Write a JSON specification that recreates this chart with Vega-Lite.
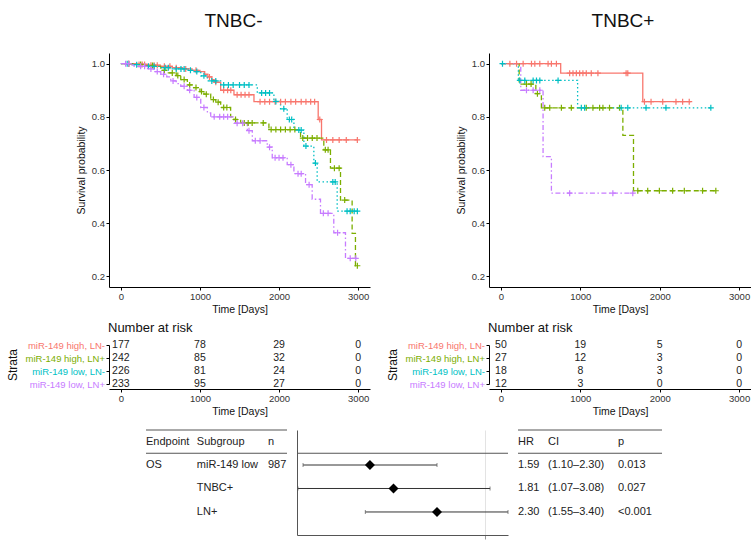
{
"$schema": "https://vega.github.io/schema/vega-lite/v6.json",
"autosize": {"type": "none"},
"padding": {"left": 109, "top": 53, "right": 642, "bottom": 488},
"background": "white",
"config": {
  "font": "Liberation Sans",
  "view": {"stroke": null},
  "axis": {"grid": false, "domainColor": "#000", "tickColor": "#000", "labelColor": "#333", "titleColor": "#111", "labelFontSize": 9.5, "titleFontSize": 10.5, "titleFontWeight": "normal", "tickSize": 3, "labelPadding": 1.5},
  "title": {"fontWeight": "normal", "color": "#111", "frame": "group"}
},
"datasets": {
  "km": [
    {"p":"TNBC-","g":"miR-149 high, LN-","t":0,"s":1},{"p":"TNBC-","g":"miR-149 high, LN-","t":200,"s":0.997},{"p":"TNBC-","g":"miR-149 high, LN-","t":350,"s":0.994},{"p":"TNBC-","g":"miR-149 high, LN-","t":500,"s":0.99},{"p":"TNBC-","g":"miR-149 high, LN-","t":650,"s":0.985},{"p":"TNBC-","g":"miR-149 high, LN-","t":780,"s":0.98},{"p":"TNBC-","g":"miR-149 high, LN-","t":900,"s":0.975},{"p":"TNBC-","g":"miR-149 high, LN-","t":1000,"s":0.97},{"p":"TNBC-","g":"miR-149 high, LN-","t":1060,"s":0.96},{"p":"TNBC-","g":"miR-149 high, LN-","t":1100,"s":0.95},{"p":"TNBC-","g":"miR-149 high, LN-","t":1150,"s":0.94},{"p":"TNBC-","g":"miR-149 high, LN-","t":1180,"s":0.93},{"p":"TNBC-","g":"miR-149 high, LN-","t":1262,"s":0.9},{"p":"TNBC-","g":"miR-149 high, LN-","t":1430,"s":0.883},{"p":"TNBC-","g":"miR-149 high, LN-","t":1683,"s":0.857},{"p":"TNBC-","g":"miR-149 high, LN-","t":2495,"s":0.79},{"p":"TNBC-","g":"miR-149 high, LN-","t":2537,"s":0.713},{"p":"TNBC-","g":"miR-149 high, LN-","t":2990,"s":0.713},
    {"p":"TNBC-","g":"miR-149 high, LN+","t":0,"s":1},{"p":"TNBC-","g":"miR-149 high, LN+","t":150,"s":0.997},{"p":"TNBC-","g":"miR-149 high, LN+","t":300,"s":0.993},{"p":"TNBC-","g":"miR-149 high, LN+","t":450,"s":0.99},{"p":"TNBC-","g":"miR-149 high, LN+","t":505,"s":0.975},{"p":"TNBC-","g":"miR-149 high, LN+","t":600,"s":0.965},{"p":"TNBC-","g":"miR-149 high, LN+","t":700,"s":0.955},{"p":"TNBC-","g":"miR-149 high, LN+","t":757,"s":0.94},{"p":"TNBC-","g":"miR-149 high, LN+","t":841,"s":0.92},{"p":"TNBC-","g":"miR-149 high, LN+","t":900,"s":0.91},{"p":"TNBC-","g":"miR-149 high, LN+","t":1000,"s":0.895},{"p":"TNBC-","g":"miR-149 high, LN+","t":1050,"s":0.885},{"p":"TNBC-","g":"miR-149 high, LN+","t":1136,"s":0.865},{"p":"TNBC-","g":"miR-149 high, LN+","t":1200,"s":0.855},{"p":"TNBC-","g":"miR-149 high, LN+","t":1262,"s":0.835},{"p":"TNBC-","g":"miR-149 high, LN+","t":1388,"s":0.8},{"p":"TNBC-","g":"miR-149 high, LN+","t":1430,"s":0.79},{"p":"TNBC-","g":"miR-149 high, LN+","t":1515,"s":0.777},{"p":"TNBC-","g":"miR-149 high, LN+","t":1872,"s":0.752},{"p":"TNBC-","g":"miR-149 high, LN+","t":2272,"s":0.72},{"p":"TNBC-","g":"miR-149 high, LN+","t":2566,"s":0.676},{"p":"TNBC-","g":"miR-149 high, LN+","t":2650,"s":0.607},{"p":"TNBC-","g":"miR-149 high, LN+","t":2777,"s":0.487},{"p":"TNBC-","g":"miR-149 high, LN+","t":2924,"s":0.362},{"p":"TNBC-","g":"miR-149 high, LN+","t":2966,"s":0.24},{"p":"TNBC-","g":"miR-149 high, LN+","t":2990,"s":0.24},
    {"p":"TNBC-","g":"miR-149 low, LN-","t":0,"s":1},{"p":"TNBC-","g":"miR-149 low, LN-","t":150,"s":0.996},{"p":"TNBC-","g":"miR-149 low, LN-","t":300,"s":0.99},{"p":"TNBC-","g":"miR-149 low, LN-","t":500,"s":0.985},{"p":"TNBC-","g":"miR-149 low, LN-","t":650,"s":0.98},{"p":"TNBC-","g":"miR-149 low, LN-","t":850,"s":0.975},{"p":"TNBC-","g":"miR-149 low, LN-","t":926,"s":0.97},{"p":"TNBC-","g":"miR-149 low, LN-","t":1010,"s":0.954},{"p":"TNBC-","g":"miR-149 low, LN-","t":1094,"s":0.935},{"p":"TNBC-","g":"miR-149 low, LN-","t":1262,"s":0.92},{"p":"TNBC-","g":"miR-149 low, LN-","t":1725,"s":0.89},{"p":"TNBC-","g":"miR-149 low, LN-","t":1935,"s":0.858},{"p":"TNBC-","g":"miR-149 low, LN-","t":2019,"s":0.83},{"p":"TNBC-","g":"miR-149 low, LN-","t":2103,"s":0.79},{"p":"TNBC-","g":"miR-149 low, LN-","t":2188,"s":0.75},{"p":"TNBC-","g":"miR-149 low, LN-","t":2314,"s":0.69},{"p":"TNBC-","g":"miR-149 low, LN-","t":2440,"s":0.626},{"p":"TNBC-","g":"miR-149 low, LN-","t":2482,"s":0.555},{"p":"TNBC-","g":"miR-149 low, LN-","t":2735,"s":0.445},{"p":"TNBC-","g":"miR-149 low, LN-","t":2990,"s":0.445},
    {"p":"TNBC-","g":"miR-149 low, LN+","t":0,"s":1},{"p":"TNBC-","g":"miR-149 low, LN+","t":120,"s":0.995},{"p":"TNBC-","g":"miR-149 low, LN+","t":168,"s":0.99},{"p":"TNBC-","g":"miR-149 low, LN+","t":337,"s":0.98},{"p":"TNBC-","g":"miR-149 low, LN+","t":420,"s":0.97},{"p":"TNBC-","g":"miR-149 low, LN+","t":505,"s":0.96},{"p":"TNBC-","g":"miR-149 low, LN+","t":580,"s":0.95},{"p":"TNBC-","g":"miR-149 low, LN+","t":631,"s":0.935},{"p":"TNBC-","g":"miR-149 low, LN+","t":700,"s":0.925},{"p":"TNBC-","g":"miR-149 low, LN+","t":757,"s":0.915},{"p":"TNBC-","g":"miR-149 low, LN+","t":841,"s":0.9},{"p":"TNBC-","g":"miR-149 low, LN+","t":926,"s":0.873},{"p":"TNBC-","g":"miR-149 low, LN+","t":1010,"s":0.835},{"p":"TNBC-","g":"miR-149 low, LN+","t":1094,"s":0.815},{"p":"TNBC-","g":"miR-149 low, LN+","t":1136,"s":0.8},{"p":"TNBC-","g":"miR-149 low, LN+","t":1430,"s":0.776},{"p":"TNBC-","g":"miR-149 low, LN+","t":1599,"s":0.748},{"p":"TNBC-","g":"miR-149 low, LN+","t":1662,"s":0.71},{"p":"TNBC-","g":"miR-149 low, LN+","t":1851,"s":0.686},{"p":"TNBC-","g":"miR-149 low, LN+","t":1914,"s":0.646},{"p":"TNBC-","g":"miR-149 low, LN+","t":2103,"s":0.62},{"p":"TNBC-","g":"miR-149 low, LN+","t":2188,"s":0.586},{"p":"TNBC-","g":"miR-149 low, LN+","t":2335,"s":0.545},{"p":"TNBC-","g":"miR-149 low, LN+","t":2419,"s":0.49},{"p":"TNBC-","g":"miR-149 low, LN+","t":2524,"s":0.437},{"p":"TNBC-","g":"miR-149 low, LN+","t":2692,"s":0.364},{"p":"TNBC-","g":"miR-149 low, LN+","t":2840,"s":0.268},{"p":"TNBC-","g":"miR-149 low, LN+","t":2990,"s":0.268},
    {"p":"TNBC+","g":"miR-149 high, LN-","t":0,"s":1},{"p":"TNBC+","g":"miR-149 high, LN-","t":753,"s":0.964},{"p":"TNBC+","g":"miR-149 high, LN-","t":1787,"s":0.857},{"p":"TNBC+","g":"miR-149 high, LN-","t":2393,"s":0.857},
    {"p":"TNBC+","g":"miR-149 high, LN+","t":0,"s":1},{"p":"TNBC+","g":"miR-149 high, LN+","t":230,"s":0.923},{"p":"TNBC+","g":"miR-149 high, LN+","t":440,"s":0.887},{"p":"TNBC+","g":"miR-149 high, LN+","t":510,"s":0.834},{"p":"TNBC+","g":"miR-149 high, LN+","t":1536,"s":0.73},{"p":"TNBC+","g":"miR-149 high, LN+","t":1670,"s":0.522},{"p":"TNBC+","g":"miR-149 high, LN+","t":2728,"s":0.522},
    {"p":"TNBC+","g":"miR-149 low, LN-","t":0,"s":1},{"p":"TNBC+","g":"miR-149 low, LN-","t":220,"s":0.937},{"p":"TNBC+","g":"miR-149 low, LN-","t":966,"s":0.834},{"p":"TNBC+","g":"miR-149 low, LN-","t":2665,"s":0.834},
    {"p":"TNBC+","g":"miR-149 low, LN+","t":0,"s":1},{"p":"TNBC+","g":"miR-149 low, LN+","t":250,"s":0.9},{"p":"TNBC+","g":"miR-149 low, LN+","t":531,"s":0.65},{"p":"TNBC+","g":"miR-149 low, LN+","t":636,"s":0.513},{"p":"TNBC+","g":"miR-149 low, LN+","t":1682,"s":0.513}
  ],
  "cens": [
    {"p":"TNBC-","g":"miR-149 high, LN-","t":100,"s":1},{"p":"TNBC-","g":"miR-149 high, LN-","t":230,"s":0.997},{"p":"TNBC-","g":"miR-149 high, LN-","t":270,"s":0.997},{"p":"TNBC-","g":"miR-149 high, LN-","t":300,"s":0.997},{"p":"TNBC-","g":"miR-149 high, LN-","t":380,"s":0.994},{"p":"TNBC-","g":"miR-149 high, LN-","t":420,"s":0.994},{"p":"TNBC-","g":"miR-149 high, LN-","t":460,"s":0.994},{"p":"TNBC-","g":"miR-149 high, LN-","t":550,"s":0.99},{"p":"TNBC-","g":"miR-149 high, LN-","t":620,"s":0.99},{"p":"TNBC-","g":"miR-149 high, LN-","t":700,"s":0.985},{"p":"TNBC-","g":"miR-149 high, LN-","t":820,"s":0.98},{"p":"TNBC-","g":"miR-149 high, LN-","t":950,"s":0.975},{"p":"TNBC-","g":"miR-149 high, LN-","t":1120,"s":0.95},{"p":"TNBC-","g":"miR-149 high, LN-","t":1200,"s":0.93},{"p":"TNBC-","g":"miR-149 high, LN-","t":1300,"s":0.9},{"p":"TNBC-","g":"miR-149 high, LN-","t":1350,"s":0.9},{"p":"TNBC-","g":"miR-149 high, LN-","t":1390,"s":0.9},{"p":"TNBC-","g":"miR-149 high, LN-","t":1470,"s":0.883},{"p":"TNBC-","g":"miR-149 high, LN-","t":1520,"s":0.883},{"p":"TNBC-","g":"miR-149 high, LN-","t":1570,"s":0.883},{"p":"TNBC-","g":"miR-149 high, LN-","t":1620,"s":0.883},{"p":"TNBC-","g":"miR-149 high, LN-","t":1760,"s":0.857},{"p":"TNBC-","g":"miR-149 high, LN-","t":1820,"s":0.857},{"p":"TNBC-","g":"miR-149 high, LN-","t":1880,"s":0.857},{"p":"TNBC-","g":"miR-149 high, LN-","t":1950,"s":0.857},{"p":"TNBC-","g":"miR-149 high, LN-","t":2020,"s":0.857},{"p":"TNBC-","g":"miR-149 high, LN-","t":2080,"s":0.857},{"p":"TNBC-","g":"miR-149 high, LN-","t":2150,"s":0.857},{"p":"TNBC-","g":"miR-149 high, LN-","t":2210,"s":0.857},{"p":"TNBC-","g":"miR-149 high, LN-","t":2280,"s":0.857},{"p":"TNBC-","g":"miR-149 high, LN-","t":2340,"s":0.857},{"p":"TNBC-","g":"miR-149 high, LN-","t":2400,"s":0.857},{"p":"TNBC-","g":"miR-149 high, LN-","t":2450,"s":0.857},{"p":"TNBC-","g":"miR-149 high, LN-","t":2515,"s":0.79},{"p":"TNBC-","g":"miR-149 high, LN-","t":2600,"s":0.713},{"p":"TNBC-","g":"miR-149 high, LN-","t":2680,"s":0.713},{"p":"TNBC-","g":"miR-149 high, LN-","t":2760,"s":0.713},{"p":"TNBC-","g":"miR-149 high, LN-","t":2850,"s":0.713},{"p":"TNBC-","g":"miR-149 high, LN-","t":2990,"s":0.713},
    {"p":"TNBC-","g":"miR-149 high, LN+","t":100,"s":1},{"p":"TNBC-","g":"miR-149 high, LN+","t":250,"s":0.997},{"p":"TNBC-","g":"miR-149 high, LN+","t":400,"s":0.993},{"p":"TNBC-","g":"miR-149 high, LN+","t":550,"s":0.975},{"p":"TNBC-","g":"miR-149 high, LN+","t":650,"s":0.965},{"p":"TNBC-","g":"miR-149 high, LN+","t":720,"s":0.955},{"p":"TNBC-","g":"miR-149 high, LN+","t":800,"s":0.94},{"p":"TNBC-","g":"miR-149 high, LN+","t":870,"s":0.92},{"p":"TNBC-","g":"miR-149 high, LN+","t":950,"s":0.91},{"p":"TNBC-","g":"miR-149 high, LN+","t":1020,"s":0.895},{"p":"TNBC-","g":"miR-149 high, LN+","t":1080,"s":0.885},{"p":"TNBC-","g":"miR-149 high, LN+","t":1170,"s":0.865},{"p":"TNBC-","g":"miR-149 high, LN+","t":1230,"s":0.855},{"p":"TNBC-","g":"miR-149 high, LN+","t":1300,"s":0.835},{"p":"TNBC-","g":"miR-149 high, LN+","t":1340,"s":0.835},{"p":"TNBC-","g":"miR-149 high, LN+","t":1450,"s":0.79},{"p":"TNBC-","g":"miR-149 high, LN+","t":1560,"s":0.777},{"p":"TNBC-","g":"miR-149 high, LN+","t":1610,"s":0.777},{"p":"TNBC-","g":"miR-149 high, LN+","t":1660,"s":0.777},{"p":"TNBC-","g":"miR-149 high, LN+","t":1800,"s":0.777},{"p":"TNBC-","g":"miR-149 high, LN+","t":1900,"s":0.752},{"p":"TNBC-","g":"miR-149 high, LN+","t":1960,"s":0.752},{"p":"TNBC-","g":"miR-149 high, LN+","t":2020,"s":0.752},{"p":"TNBC-","g":"miR-149 high, LN+","t":2080,"s":0.752},{"p":"TNBC-","g":"miR-149 high, LN+","t":2140,"s":0.752},{"p":"TNBC-","g":"miR-149 high, LN+","t":2200,"s":0.752},{"p":"TNBC-","g":"miR-149 high, LN+","t":2300,"s":0.72},{"p":"TNBC-","g":"miR-149 high, LN+","t":2360,"s":0.72},{"p":"TNBC-","g":"miR-149 high, LN+","t":2420,"s":0.72},{"p":"TNBC-","g":"miR-149 high, LN+","t":2480,"s":0.72},{"p":"TNBC-","g":"miR-149 high, LN+","t":2585,"s":0.676},{"p":"TNBC-","g":"miR-149 high, LN+","t":2620,"s":0.676},{"p":"TNBC-","g":"miR-149 high, LN+","t":2700,"s":0.607},{"p":"TNBC-","g":"miR-149 high, LN+","t":2760,"s":0.607},{"p":"TNBC-","g":"miR-149 high, LN+","t":2830,"s":0.487},{"p":"TNBC-","g":"miR-149 high, LN+","t":2990,"s":0.24},
    {"p":"TNBC-","g":"miR-149 low, LN-","t":80,"s":1},{"p":"TNBC-","g":"miR-149 low, LN-","t":200,"s":0.996},{"p":"TNBC-","g":"miR-149 low, LN-","t":350,"s":0.99},{"p":"TNBC-","g":"miR-149 low, LN-","t":420,"s":0.99},{"p":"TNBC-","g":"miR-149 low, LN-","t":560,"s":0.985},{"p":"TNBC-","g":"miR-149 low, LN-","t":600,"s":0.985},{"p":"TNBC-","g":"miR-149 low, LN-","t":700,"s":0.98},{"p":"TNBC-","g":"miR-149 low, LN-","t":760,"s":0.98},{"p":"TNBC-","g":"miR-149 low, LN-","t":800,"s":0.98},{"p":"TNBC-","g":"miR-149 low, LN-","t":880,"s":0.975},{"p":"TNBC-","g":"miR-149 low, LN-","t":960,"s":0.97},{"p":"TNBC-","g":"miR-149 low, LN-","t":1050,"s":0.954},{"p":"TNBC-","g":"miR-149 low, LN-","t":1150,"s":0.935},{"p":"TNBC-","g":"miR-149 low, LN-","t":1200,"s":0.935},{"p":"TNBC-","g":"miR-149 low, LN-","t":1300,"s":0.92},{"p":"TNBC-","g":"miR-149 low, LN-","t":1360,"s":0.92},{"p":"TNBC-","g":"miR-149 low, LN-","t":1420,"s":0.92},{"p":"TNBC-","g":"miR-149 low, LN-","t":1500,"s":0.92},{"p":"TNBC-","g":"miR-149 low, LN-","t":1560,"s":0.92},{"p":"TNBC-","g":"miR-149 low, LN-","t":1620,"s":0.92},{"p":"TNBC-","g":"miR-149 low, LN-","t":1780,"s":0.89},{"p":"TNBC-","g":"miR-149 low, LN-","t":1830,"s":0.89},{"p":"TNBC-","g":"miR-149 low, LN-","t":1880,"s":0.89},{"p":"TNBC-","g":"miR-149 low, LN-","t":1960,"s":0.858},{"p":"TNBC-","g":"miR-149 low, LN-","t":2060,"s":0.83},{"p":"TNBC-","g":"miR-149 low, LN-","t":2130,"s":0.79},{"p":"TNBC-","g":"miR-149 low, LN-","t":2160,"s":0.79},{"p":"TNBC-","g":"miR-149 low, LN-","t":2250,"s":0.75},{"p":"TNBC-","g":"miR-149 low, LN-","t":2280,"s":0.75},{"p":"TNBC-","g":"miR-149 low, LN-","t":2340,"s":0.69},{"p":"TNBC-","g":"miR-149 low, LN-","t":2460,"s":0.626},{"p":"TNBC-","g":"miR-149 low, LN-","t":2680,"s":0.555},{"p":"TNBC-","g":"miR-149 low, LN-","t":2710,"s":0.555},{"p":"TNBC-","g":"miR-149 low, LN-","t":2860,"s":0.445},{"p":"TNBC-","g":"miR-149 low, LN-","t":2900,"s":0.445},{"p":"TNBC-","g":"miR-149 low, LN-","t":2950,"s":0.445},{"p":"TNBC-","g":"miR-149 low, LN-","t":2990,"s":0.445},
    {"p":"TNBC-","g":"miR-149 low, LN+","t":60,"s":1},{"p":"TNBC-","g":"miR-149 low, LN+","t":100,"s":1},{"p":"TNBC-","g":"miR-149 low, LN+","t":250,"s":0.99},{"p":"TNBC-","g":"miR-149 low, LN+","t":300,"s":0.99},{"p":"TNBC-","g":"miR-149 low, LN+","t":380,"s":0.98},{"p":"TNBC-","g":"miR-149 low, LN+","t":460,"s":0.97},{"p":"TNBC-","g":"miR-149 low, LN+","t":540,"s":0.96},{"p":"TNBC-","g":"miR-149 low, LN+","t":660,"s":0.935},{"p":"TNBC-","g":"miR-149 low, LN+","t":800,"s":0.915},{"p":"TNBC-","g":"miR-149 low, LN+","t":870,"s":0.9},{"p":"TNBC-","g":"miR-149 low, LN+","t":960,"s":0.873},{"p":"TNBC-","g":"miR-149 low, LN+","t":1050,"s":0.835},{"p":"TNBC-","g":"miR-149 low, LN+","t":1180,"s":0.8},{"p":"TNBC-","g":"miR-149 low, LN+","t":1250,"s":0.8},{"p":"TNBC-","g":"miR-149 low, LN+","t":1300,"s":0.8},{"p":"TNBC-","g":"miR-149 low, LN+","t":1350,"s":0.8},{"p":"TNBC-","g":"miR-149 low, LN+","t":1470,"s":0.776},{"p":"TNBC-","g":"miR-149 low, LN+","t":1540,"s":0.776},{"p":"TNBC-","g":"miR-149 low, LN+","t":1620,"s":0.748},{"p":"TNBC-","g":"miR-149 low, LN+","t":1700,"s":0.71},{"p":"TNBC-","g":"miR-149 low, LN+","t":1760,"s":0.71},{"p":"TNBC-","g":"miR-149 low, LN+","t":1880,"s":0.686},{"p":"TNBC-","g":"miR-149 low, LN+","t":1950,"s":0.646},{"p":"TNBC-","g":"miR-149 low, LN+","t":2000,"s":0.646},{"p":"TNBC-","g":"miR-149 low, LN+","t":2050,"s":0.646},{"p":"TNBC-","g":"miR-149 low, LN+","t":2150,"s":0.62},{"p":"TNBC-","g":"miR-149 low, LN+","t":2240,"s":0.586},{"p":"TNBC-","g":"miR-149 low, LN+","t":2280,"s":0.586},{"p":"TNBC-","g":"miR-149 low, LN+","t":2380,"s":0.545},{"p":"TNBC-","g":"miR-149 low, LN+","t":2560,"s":0.437},{"p":"TNBC-","g":"miR-149 low, LN+","t":2620,"s":0.437},{"p":"TNBC-","g":"miR-149 low, LN+","t":2740,"s":0.364},{"p":"TNBC-","g":"miR-149 low, LN+","t":2900,"s":0.268},{"p":"TNBC-","g":"miR-149 low, LN+","t":2970,"s":0.268},
    {"p":"TNBC+","g":"miR-149 high, LN-","t":113,"s":1},{"p":"TNBC+","g":"miR-149 high, LN-","t":197,"s":1},{"p":"TNBC+","g":"miR-149 high, LN-","t":280,"s":1},{"p":"TNBC+","g":"miR-149 high, LN-","t":385,"s":1},{"p":"TNBC+","g":"miR-149 high, LN-","t":427,"s":1},{"p":"TNBC+","g":"miR-149 high, LN-","t":490,"s":1},{"p":"TNBC+","g":"miR-149 high, LN-","t":594,"s":1},{"p":"TNBC+","g":"miR-149 high, LN-","t":636,"s":1},{"p":"TNBC+","g":"miR-149 high, LN-","t":699,"s":1},{"p":"TNBC+","g":"miR-149 high, LN-","t":866,"s":0.964},{"p":"TNBC+","g":"miR-149 high, LN-","t":908,"s":0.964},{"p":"TNBC+","g":"miR-149 high, LN-","t":950,"s":0.964},{"p":"TNBC+","g":"miR-149 high, LN-","t":992,"s":0.964},{"p":"TNBC+","g":"miR-149 high, LN-","t":1033,"s":0.964},{"p":"TNBC+","g":"miR-149 high, LN-","t":1075,"s":0.964},{"p":"TNBC+","g":"miR-149 high, LN-","t":1138,"s":0.964},{"p":"TNBC+","g":"miR-149 high, LN-","t":1222,"s":0.964},{"p":"TNBC+","g":"miR-149 high, LN-","t":1577,"s":0.964},{"p":"TNBC+","g":"miR-149 high, LN-","t":1598,"s":0.964},{"p":"TNBC+","g":"miR-149 high, LN-","t":1808,"s":0.857},{"p":"TNBC+","g":"miR-149 high, LN-","t":1891,"s":0.857},{"p":"TNBC+","g":"miR-149 high, LN-","t":2038,"s":0.857},{"p":"TNBC+","g":"miR-149 high, LN-","t":2205,"s":0.857},{"p":"TNBC+","g":"miR-149 high, LN-","t":2289,"s":0.857},{"p":"TNBC+","g":"miR-149 high, LN-","t":2372,"s":0.857},
    {"p":"TNBC+","g":"miR-149 high, LN+","t":322,"s":0.923},{"p":"TNBC+","g":"miR-149 high, LN+","t":380,"s":0.923},{"p":"TNBC+","g":"miR-149 high, LN+","t":460,"s":0.887},{"p":"TNBC+","g":"miR-149 high, LN+","t":552,"s":0.834},{"p":"TNBC+","g":"miR-149 high, LN+","t":615,"s":0.834},{"p":"TNBC+","g":"miR-149 high, LN+","t":762,"s":0.834},{"p":"TNBC+","g":"miR-149 high, LN+","t":887,"s":0.834},{"p":"TNBC+","g":"miR-149 high, LN+","t":1075,"s":0.834},{"p":"TNBC+","g":"miR-149 high, LN+","t":1159,"s":0.834},{"p":"TNBC+","g":"miR-149 high, LN+","t":1243,"s":0.834},{"p":"TNBC+","g":"miR-149 high, LN+","t":1285,"s":0.834},{"p":"TNBC+","g":"miR-149 high, LN+","t":1368,"s":0.834},{"p":"TNBC+","g":"miR-149 high, LN+","t":1494,"s":0.834},{"p":"TNBC+","g":"miR-149 high, LN+","t":1724,"s":0.522},{"p":"TNBC+","g":"miR-149 high, LN+","t":1849,"s":0.522},{"p":"TNBC+","g":"miR-149 high, LN+","t":1996,"s":0.522},{"p":"TNBC+","g":"miR-149 high, LN+","t":2163,"s":0.522},{"p":"TNBC+","g":"miR-149 high, LN+","t":2310,"s":0.522},{"p":"TNBC+","g":"miR-149 high, LN+","t":2540,"s":0.522},{"p":"TNBC+","g":"miR-149 high, LN+","t":2707,"s":0.522},
    {"p":"TNBC+","g":"miR-149 low, LN-","t":20,"s":1},{"p":"TNBC+","g":"miR-149 low, LN-","t":238,"s":0.937},{"p":"TNBC+","g":"miR-149 low, LN-","t":301,"s":0.937},{"p":"TNBC+","g":"miR-149 low, LN-","t":406,"s":0.937},{"p":"TNBC+","g":"miR-149 low, LN-","t":448,"s":0.937},{"p":"TNBC+","g":"miR-149 low, LN-","t":490,"s":0.937},{"p":"TNBC+","g":"miR-149 low, LN-","t":720,"s":0.937},{"p":"TNBC+","g":"miR-149 low, LN-","t":1013,"s":0.834},{"p":"TNBC+","g":"miR-149 low, LN-","t":1054,"s":0.834},{"p":"TNBC+","g":"miR-149 low, LN-","t":1515,"s":0.834},{"p":"TNBC+","g":"miR-149 low, LN-","t":1598,"s":0.834},{"p":"TNBC+","g":"miR-149 low, LN-","t":1828,"s":0.834},{"p":"TNBC+","g":"miR-149 low, LN-","t":2079,"s":0.834},{"p":"TNBC+","g":"miR-149 low, LN-","t":2644,"s":0.834},
    {"p":"TNBC+","g":"miR-149 low, LN+","t":322,"s":0.9},{"p":"TNBC+","g":"miR-149 low, LN+","t":406,"s":0.9},{"p":"TNBC+","g":"miR-149 low, LN+","t":490,"s":0.9},{"p":"TNBC+","g":"miR-149 low, LN+","t":866,"s":0.513},{"p":"TNBC+","g":"miR-149 low, LN+","t":1410,"s":0.513},{"p":"TNBC+","g":"miR-149 low, LN+","t":1661,"s":0.513}
  ],
  "risk": [
    {"p":"TNBC-","g":"miR-149 high, LN-","t":0,"n":177},{"p":"TNBC-","g":"miR-149 high, LN-","t":1000,"n":78},{"p":"TNBC-","g":"miR-149 high, LN-","t":2000,"n":29},{"p":"TNBC-","g":"miR-149 high, LN-","t":3000,"n":0},
    {"p":"TNBC-","g":"miR-149 high, LN+","t":0,"n":242},{"p":"TNBC-","g":"miR-149 high, LN+","t":1000,"n":85},{"p":"TNBC-","g":"miR-149 high, LN+","t":2000,"n":32},{"p":"TNBC-","g":"miR-149 high, LN+","t":3000,"n":0},
    {"p":"TNBC-","g":"miR-149 low, LN-","t":0,"n":226},{"p":"TNBC-","g":"miR-149 low, LN-","t":1000,"n":81},{"p":"TNBC-","g":"miR-149 low, LN-","t":2000,"n":24},{"p":"TNBC-","g":"miR-149 low, LN-","t":3000,"n":0},
    {"p":"TNBC-","g":"miR-149 low, LN+","t":0,"n":233},{"p":"TNBC-","g":"miR-149 low, LN+","t":1000,"n":95},{"p":"TNBC-","g":"miR-149 low, LN+","t":2000,"n":27},{"p":"TNBC-","g":"miR-149 low, LN+","t":3000,"n":0},
    {"p":"TNBC+","g":"miR-149 high, LN-","t":0,"n":50},{"p":"TNBC+","g":"miR-149 high, LN-","t":1000,"n":19},{"p":"TNBC+","g":"miR-149 high, LN-","t":2000,"n":5},{"p":"TNBC+","g":"miR-149 high, LN-","t":3000,"n":0},
    {"p":"TNBC+","g":"miR-149 high, LN+","t":0,"n":27},{"p":"TNBC+","g":"miR-149 high, LN+","t":1000,"n":12},{"p":"TNBC+","g":"miR-149 high, LN+","t":2000,"n":3},{"p":"TNBC+","g":"miR-149 high, LN+","t":3000,"n":0},
    {"p":"TNBC+","g":"miR-149 low, LN-","t":0,"n":18},{"p":"TNBC+","g":"miR-149 low, LN-","t":1000,"n":8},{"p":"TNBC+","g":"miR-149 low, LN-","t":2000,"n":3},{"p":"TNBC+","g":"miR-149 low, LN-","t":3000,"n":0},
    {"p":"TNBC+","g":"miR-149 low, LN+","t":0,"n":12},{"p":"TNBC+","g":"miR-149 low, LN+","t":1000,"n":3},{"p":"TNBC+","g":"miR-149 low, LN+","t":2000,"n":0},{"p":"TNBC+","g":"miR-149 low, LN+","t":3000,"n":0}
  ],
  "forest": [
    {"row":1,"hr":1.59,"lo":1.10,"hi":2.30},
    {"row":2,"hr":1.81,"lo":1.07,"hi":3.08},
    {"row":3,"hr":2.30,"lo":1.55,"hi":3.40}
  ],
  "tblL": [
    {"row":0,"col":"Endpoint","txt":"Endpoint"},{"row":0,"col":"Subgroup","txt":"Subgroup"},{"row":0,"col":"n","txt":"n"},
    {"row":1,"col":"Endpoint","txt":"OS"},{"row":1,"col":"Subgroup","txt":"miR-149 low"},{"row":1,"col":"n","txt":"987"},
    {"row":2,"col":"Subgroup","txt":"TNBC+"},
    {"row":3,"col":"Subgroup","txt":"LN+"}
  ],
  "tblR": [
    {"row":0,"col":"HR","txt":"HR"},{"row":0,"col":"CI","txt":"CI"},{"row":0,"col":"p","txt":"p"},
    {"row":1,"col":"HR","txt":"1.59"},{"row":1,"col":"CI","txt":"(1.10–2.30)"},{"row":1,"col":"p","txt":"0.013"},
    {"row":2,"col":"HR","txt":"1.81"},{"row":2,"col":"CI","txt":"(1.07–3.08)"},{"row":2,"col":"p","txt":"0.027"},
    {"row":3,"col":"HR","txt":"2.30"},{"row":3,"col":"CI","txt":"(1.55–3.40)"},{"row":3,"col":"p","txt":"<0.001"}
  ],
  "lines": [{"row": -0.49}, {"row": 0.5}]
},
"spacing": 12,
"vconcat": [
 {
  "spacing": 16,
  "hconcat": [
   {
    "bounds": "flush", "spacing": 41,
    "vconcat": [
     {
      "width": 261, "height": 234,
      "title": {"text": "TNBC-", "fontSize": 19, "anchor": "middle", "dx": -6, "offset": 7, "baseline": "alphabetic"},
      "layer": [
        {"data": {"name": "km"}, "transform": [{"filter": "datum.p === 'TNBC-'"}],
         "mark": {"type": "line", "interpolate": "step-after", "strokeWidth": 1.3},
         "encoding": {
           "x": {"field": "t", "type": "quantitative", "scale": {"domain": [-150, 3150], "nice": false, "zero": false}, "axis": {"values": [0, 1000, 2000, 3000], "format": "d", "title": "Time [Days]", "titlePadding": 3}},
           "y": {"field": "s", "type": "quantitative", "scale": {"domain": [0.16, 1.04], "nice": false, "zero": false}, "axis": {"values": [0.2, 0.4, 0.6, 0.8, 1.0], "format": ".1f", "title": "Survival probability", "titlePadding": 5}},
           "color": {"field": "g", "type": "nominal", "scale": {"domain": ["miR-149 high, LN-", "miR-149 high, LN+", "miR-149 low, LN-", "miR-149 low, LN+"], "range": ["#F8766D", "#7CAE00", "#00BFC4", "#C77CFF"]}, "legend": null},
           "strokeDash": {"field": "g", "type": "nominal", "scale": {"domain": ["miR-149 high, LN-", "miR-149 high, LN+", "miR-149 low, LN-", "miR-149 low, LN+"], "range": [[1, 0], [5, 3], [1.5, 2.5], [5, 2.5, 1.5, 2.5]]}, "legend": null}
         }},
        {"data": {"name": "cens"}, "transform": [{"filter": "datum.p === 'TNBC-'"}],
         "mark": {"type": "point", "shape": "M-1,0H1M0,-1V1", "filled": false, "size": 36, "strokeWidth": 1.2, "opacity": 1},
         "encoding": {
           "x": {"field": "t", "type": "quantitative"},
           "y": {"field": "s", "type": "quantitative"},
           "color": {"field": "g", "type": "nominal", "legend": null}
         }}
      ]
     },
     {
      "width": 261, "height": 61,
      "title": {"text": "Number at risk", "fontSize": 13, "anchor": "start", "dx": -1, "offset": -17, "baseline": "alphabetic"},
      "data": {"name": "risk"}, "transform": [{"filter": "datum.p === 'TNBC-'"}],
      "mark": {"type": "text", "fontSize": 10.5, "color": "#222"},
      "encoding": {
        "x": {"field": "t", "type": "quantitative", "scale": {"domain": [-150, 3150], "nice": false, "zero": false}, "axis": {"values": [0, 1000, 2000, 3000], "format": "d", "title": "Time [Days]", "titlePadding": 3}},
        "y": {"field": "g", "type": "nominal", "scale": {"type": "point", "domain": ["miR-149 high, LN-", "miR-149 high, LN+", "miR-149 low, LN-", "miR-149 low, LN+"], "range": [17, 56], "padding": 0}, "axis": {"title": "Strata", "titleFontSize": 12, "titlePadding": 6, "labelFontSize": 9.5, "labelColor": {"expr": "datum.value === 'miR-149 high, LN-' ? '#F8766D' : datum.value === 'miR-149 high, LN+' ? '#7CAE00' : datum.value === 'miR-149 low, LN-' ? '#00BFC4' : '#C77CFF'"}}},
        "text": {"field": "n", "type": "quantitative"}
      }
     }
    ]
   },
   {
    "bounds": "flush", "spacing": 41,
    "vconcat": [
     {
      "width": 262, "height": 234,
      "title": {"text": "TNBC+", "fontSize": 19, "anchor": "middle", "dx": 3, "offset": 7, "baseline": "alphabetic"},
      "layer": [
        {"data": {"name": "km"}, "transform": [{"filter": "datum.p === 'TNBC+'"}],
         "mark": {"type": "line", "interpolate": "step-after", "strokeWidth": 1.3},
         "encoding": {
           "x": {"field": "t", "type": "quantitative", "scale": {"domain": [-150, 3150], "nice": false, "zero": false}, "axis": {"values": [0, 1000, 2000, 3000], "format": "d", "title": "Time [Days]", "titlePadding": 3}},
           "y": {"field": "s", "type": "quantitative", "scale": {"domain": [0.16, 1.04], "nice": false, "zero": false}, "axis": {"values": [0.2, 0.4, 0.6, 0.8, 1.0], "format": ".1f", "title": "Survival probability", "titlePadding": 5}},
           "color": {"field": "g", "type": "nominal", "scale": {"domain": ["miR-149 high, LN-", "miR-149 high, LN+", "miR-149 low, LN-", "miR-149 low, LN+"], "range": ["#F8766D", "#7CAE00", "#00BFC4", "#C77CFF"]}, "legend": null},
           "strokeDash": {"field": "g", "type": "nominal", "scale": {"domain": ["miR-149 high, LN-", "miR-149 high, LN+", "miR-149 low, LN-", "miR-149 low, LN+"], "range": [[1, 0], [5, 3], [1.5, 2.5], [5, 2.5, 1.5, 2.5]]}, "legend": null}
         }},
        {"data": {"name": "cens"}, "transform": [{"filter": "datum.p === 'TNBC+'"}],
         "mark": {"type": "point", "shape": "M-1,0H1M0,-1V1", "filled": false, "size": 36, "strokeWidth": 1.2, "opacity": 1},
         "encoding": {
           "x": {"field": "t", "type": "quantitative"},
           "y": {"field": "s", "type": "quantitative"},
           "color": {"field": "g", "type": "nominal", "legend": null}
         }}
      ]
     },
     {
      "width": 262, "height": 61,
      "title": {"text": "Number at risk", "fontSize": 13, "anchor": "start", "dx": -1, "offset": -17, "baseline": "alphabetic"},
      "data": {"name": "risk"}, "transform": [{"filter": "datum.p === 'TNBC+'"}],
      "mark": {"type": "text", "fontSize": 10.5, "color": "#222"},
      "encoding": {
        "x": {"field": "t", "type": "quantitative", "scale": {"domain": [-150, 3150], "nice": false, "zero": false}, "axis": {"values": [0, 1000, 2000, 3000], "format": "d", "title": "Time [Days]", "titlePadding": 3}},
        "y": {"field": "g", "type": "nominal", "scale": {"type": "point", "domain": ["miR-149 high, LN-", "miR-149 high, LN+", "miR-149 low, LN-", "miR-149 low, LN+"], "range": [17, 56], "padding": 0}, "axis": {"title": "Strata", "titleFontSize": 12, "titlePadding": 6, "labelFontSize": 9.5, "labelColor": {"expr": "datum.value === 'miR-149 high, LN-' ? '#F8766D' : datum.value === 'miR-149 high, LN+' ? '#7CAE00' : datum.value === 'miR-149 low, LN-' ? '#00BFC4' : '#C77CFF'"}}},
        "text": {"field": "n", "type": "quantitative"}
      }
     }
    ]
   }
  ]
 },
 {
  "bounds": "flush", "spacing": 10,
  "hconcat": [
   {
    "width": 178, "height": 105,
    "layer": [
      {"data": {"name": "tblL"},
       "mark": {"type": "text", "align": "left", "baseline": "middle", "fontSize": 11, "color": "#222"},
       "encoding": {
         "x": {"field": "col", "type": "nominal", "scale": {"type": "point", "domain": ["Endpoint", "e1", "e2", "e3", "e4", "Subgroup", "s1", "s2", "s3", "s4", "s5", "s6", "n"], "range": [37, 159], "padding": 0}, "axis": null},
         "y": {"field": "row", "type": "quantitative", "scale": {"domain": [-0.49, 3.98], "reverse": true, "nice": false, "zero": false}, "axis": null},
         "text": {"field": "txt", "type": "nominal"}
       }},
      {"data": {"name": "lines"},
       "mark": {"type": "rule", "color": "#555", "strokeWidth": 1},
       "encoding": {
         "y": {"field": "row", "type": "quantitative"},
         "x": {"datum": "Endpoint"},
         "x2": {"value": "width"}
       }}
    ]
   },
   {
    "width": 211, "height": 105,
    "layer": [
      {"data": {"name": "forest"},
       "mark": {"type": "rule", "color": "#333", "strokeWidth": 1},
       "encoding": {
         "x": {"field": "lo", "type": "quantitative", "scale": {"type": "log", "domain": [1.064, 3.4], "nice": false}, "axis": {"values": [3], "labels": false, "title": null, "grid": true, "gridColor": "#e3e3e3", "tickSize": 4, "tickColor": "#999", "domainColor": "#555"}},
         "x2": {"field": "hi"},
         "y": {"field": "row", "type": "quantitative", "scale": {"domain": [-0.49, 3.98], "reverse": true, "nice": false, "zero": false}, "axis": {"title": null, "labels": false, "ticks": false, "domainColor": "#555"}}
       }},
      {"data": {"name": "lines"}, "transform": [{"filter": "datum.row > 0"}],
       "mark": {"type": "rule", "color": "#555", "strokeWidth": 1},
       "encoding": {"y": {"field": "row", "type": "quantitative"}}},
      {"data": {"name": "forest"},
       "mark": {"type": "tick", "orient": "vertical", "size": 4, "thickness": 1, "color": "#555"},
       "encoding": {"x": {"field": "lo", "type": "quantitative"}, "y": {"field": "row", "type": "quantitative"}}},
      {"data": {"name": "forest"},
       "mark": {"type": "tick", "orient": "vertical", "size": 4, "thickness": 1, "color": "#555"},
       "encoding": {"x": {"field": "hi", "type": "quantitative"}, "y": {"field": "row", "type": "quantitative"}}},
      {"data": {"name": "forest"},
       "mark": {"type": "point", "shape": "diamond", "filled": true, "size": 100, "color": "#000", "opacity": 1},
       "encoding": {"x": {"field": "hr", "type": "quantitative"}, "y": {"field": "row", "type": "quantitative"}}}
    ]
   },
   {
    "width": 144, "height": 105,
    "layer": [
      {"data": {"name": "tblR"},
       "mark": {"type": "text", "align": "left", "baseline": "middle", "fontSize": 11, "color": "#222"},
       "encoding": {
         "x": {"field": "col", "type": "nominal", "scale": {"type": "point", "domain": ["HR", "h1", "h2", "CI", "c1", "c2", "c3", "c4", "c5", "c6", "p"], "range": [0, 100], "padding": 0}, "axis": null},
         "y": {"field": "row", "type": "quantitative", "scale": {"domain": [-0.49, 3.98], "reverse": true, "nice": false, "zero": false}, "axis": null},
         "text": {"field": "txt", "type": "nominal"}
       }},
      {"data": {"name": "lines"},
       "mark": {"type": "rule", "color": "#555", "strokeWidth": 1},
       "encoding": {"y": {"field": "row", "type": "quantitative"}}}
    ]
   }
  ]
 }
]
}
